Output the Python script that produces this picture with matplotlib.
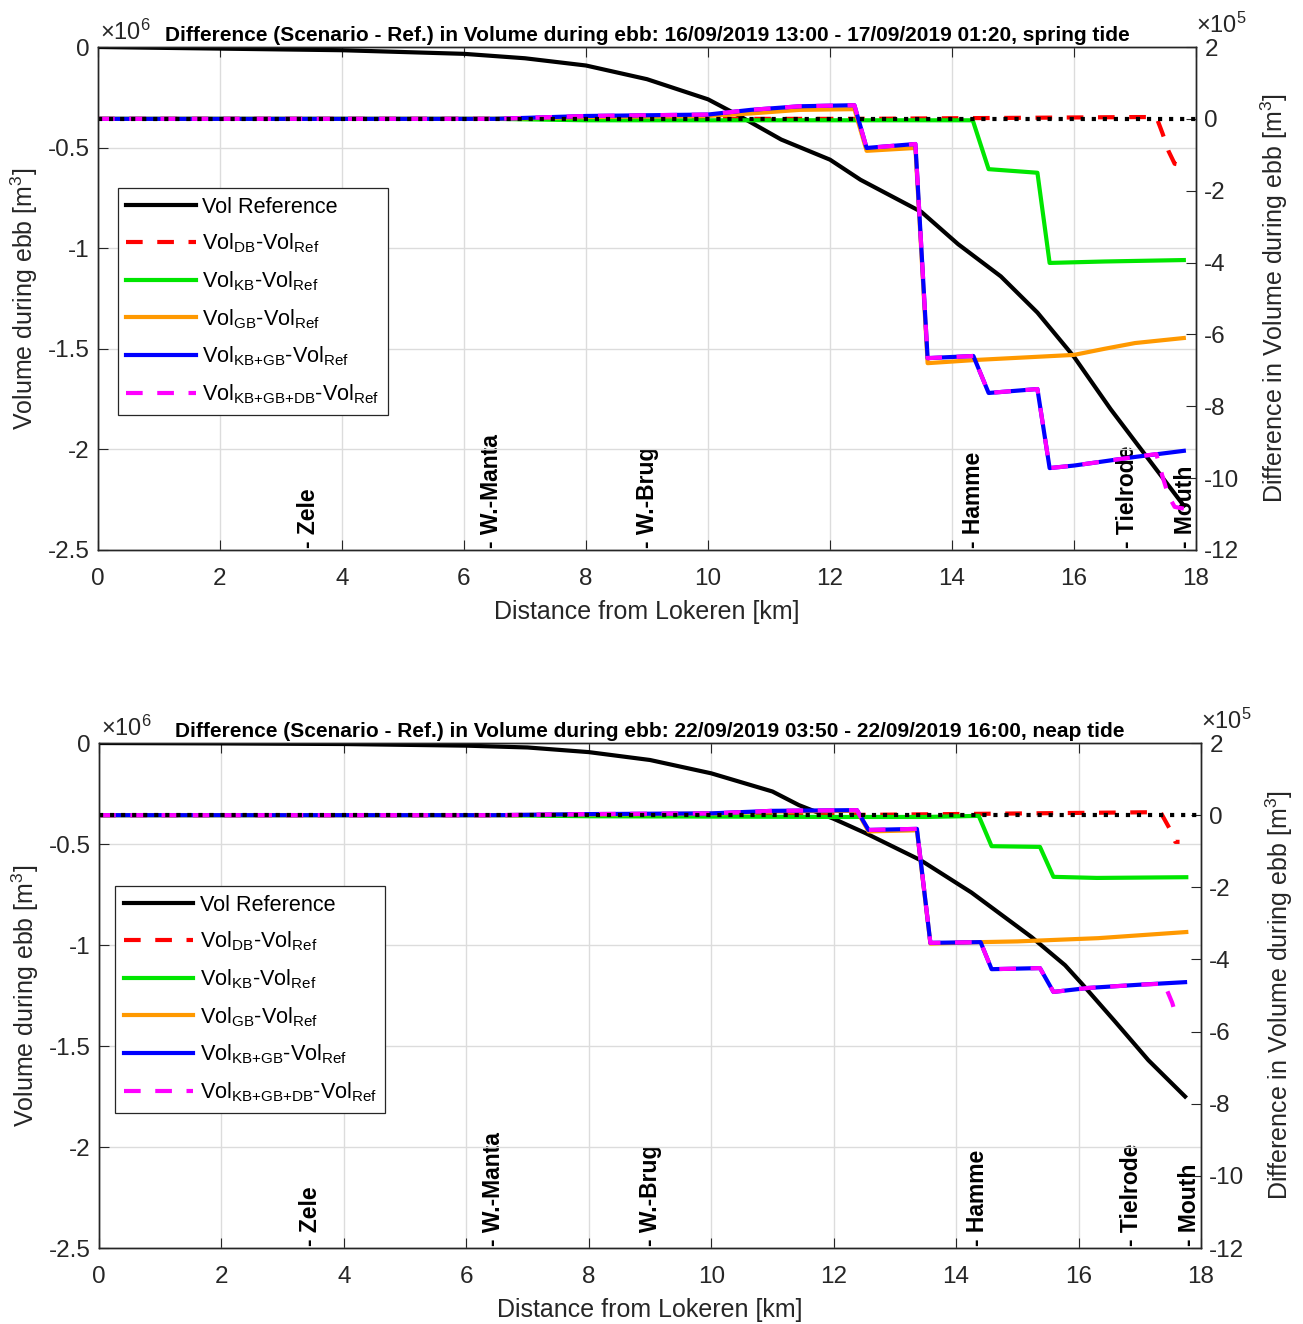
import numpy as np
import matplotlib
matplotlib.use('Agg')
import matplotlib.pyplot as plt
import matplotlib.ticker as tick
import matplotlib.transforms as mtrans

plt.rcParams['font.family'] = ['Liberation Sans', 'DejaVu Sans']
plt.rcParams['mathtext.fontset'] = 'custom'
plt.rcParams['mathtext.rm'] = 'Liberation Sans'
plt.rcParams['mathtext.it'] = 'Liberation Sans:italic'
plt.rcParams['mathtext.bf'] = 'Liberation Sans:bold'
plt.rcParams['axes.unicode_minus'] = False

# stanice duz rijeke (km od Lokerena)
st_km = [3.45, 6.45, 9.0, 14.35, 16.87, 17.82]
st_ime = ['Zele', 'W.-Manta', 'W.-Brug', 'Hamme', 'Tielrode', 'Mouth']

# ---- spring tide (16/09 - 17/09) ----
# referentni volumen, 1e6 m3
xs_ref = [0, 2, 4, 6, 7, 8, 9, 10, 10.5, 11.2, 12, 12.5, 13, 13.5, 14.1, 14.8, 15.4, 16.0, 16.6, 17.2, 17.8]
vs_ref = [0, -0.008, -0.016, -0.034, -0.056, -0.092, -0.16, -0.26, -0.34, -0.46, -0.56, -0.66,
          -0.74, -0.82, -0.98, -1.14, -1.32, -1.54, -1.80, -2.04, -2.28]
# razlike scenarija, 1e5 m3
xs_db = [0, 10, 12.5, 17.0, 17.35, 17.45, 17.55, 17.65, 17.8]
vs_db = [0, 0, 0, 0.05, 0.05, -0.4, -0.9, -1.25, -1.3]
xs_kb = [0, 6.5, 8, 14.34, 14.6, 15.4, 15.6, 16.5, 17.8]
vs_kb = [0, 0, -0.04, -0.04, -1.4, -1.5, -4.01, -3.97, -3.93]
xs_gb = [0, 6.5, 8, 10, 10.7, 11.5, 12.4, 12.6, 13.4, 13.6, 14.4, 16.0, 16.5, 17.0, 17.8]
vs_gb = [0, 0, 0.05, 0.08, 0.15, 0.25, 0.27, -0.89, -0.81, -6.8, -6.71, -6.57, -6.40, -6.24, -6.10]
xs_kbgb = [0, 6.5, 8, 10, 10.7, 11.5, 12.4, 12.6, 13.4, 13.6, 14.35, 14.6, 15.4, 15.6, 16.0, 17.0, 17.8]
vs_kbgb = [0, 0, 0.08, 0.12, 0.25, 0.35, 0.38, -0.81, -0.70, -6.66, -6.6, -7.63, -7.52, -9.72, -9.65, -9.41, -9.24]
xs_all = [0, 6.5, 8, 10, 10.7, 11.5, 12.4, 12.6, 13.4, 13.6, 14.35, 14.6, 15.4, 15.6, 16.0, 17.0, 17.35,
          17.45, 17.55, 17.65, 17.8]
vs_all = [0, 0, 0.08, 0.12, 0.25, 0.35, 0.38, -0.81, -0.70, -6.66, -6.6, -7.63, -7.52, -9.72, -9.65, -9.41,
          -9.33, -9.95, -10.5, -10.8, -10.85]

# ---- neap tide (22/09) ----
xn_ref = [0, 2, 4, 6, 7, 8, 9, 10, 11, 11.43, 12.0, 12.52, 13.42, 14.25, 15.23, 15.78, 16.05, 16.6, 17.14, 17.74]
vn_ref = [0, -0.002, -0.005, -0.013, -0.022, -0.045, -0.084, -0.15, -0.24, -0.307, -0.375, -0.446,
          -0.58, -0.74, -0.96, -1.1, -1.19, -1.38, -1.57, -1.75]
xn_db = [0, 12, 17.1, 17.34, 17.5, 17.58, 17.65]
vn_db = [0, 0, 0.08, 0.08, -0.41, -0.74, -0.74]
xn_kb = [0, 6.5, 8, 12.2, 13.5, 14.37, 14.58, 15.37, 15.59, 16.3, 17.76]
vn_kb = [0, 0, -0.03, -0.05, -0.05, -0.02, -0.86, -0.88, -1.71, -1.74, -1.72]
xn_gb = [0, 6.5, 8, 10, 11, 12.38, 12.57, 13.36, 13.58, 14.4, 15.0, 16.32, 17.76]
vn_gb = [0, 0, 0.02, 0.04, 0.1, 0.12, -0.45, -0.42, -3.56, -3.52, -3.50, -3.41, -3.24]
xn_kbgb = [0, 6.5, 8, 10, 11.0, 12.38, 12.57, 13.36, 13.58, 14.4, 14.58, 15.37, 15.59, 16.16, 17.0, 17.74]
vn_kbgb = [0, 0, 0.03, 0.05, 0.12, 0.14, -0.41, -0.38, -3.54, -3.52, -4.27, -4.24, -4.9, -4.79, -4.7, -4.63]
xn_all = [0, 6.5, 8, 10, 11.0, 12.38, 12.57, 13.36, 13.58, 14.4, 14.58, 15.37, 15.59, 16.16, 17.0, 17.4,
          17.53, 17.58, 17.7]
vn_all = [0, 0, 0.03, 0.05, 0.12, 0.14, -0.41, -0.38, -3.54, -3.52, -4.27, -4.24, -4.9, -4.79, -4.7, -4.67,
          -5.2, -5.49, -5.52]

naslov_s = 'Difference (Scenario - Ref.) in Volume during ebb: 16/09/2019 13:00 - 17/09/2019 01:20, spring tide'
naslov_n = 'Difference (Scenario - Ref.) in Volume during ebb: 22/09/2019 03:50 - 22/09/2019 16:00, neap tide'

oznake = ['Vol Reference',
          r'Vol$_{\mathrm{DB}}$-Vol$_{\mathrm{Ref}}$',
          r'Vol$_{\mathrm{KB}}$-Vol$_{\mathrm{Ref}}$',
          r'Vol$_{\mathrm{GB}}$-Vol$_{\mathrm{Ref}}$',
          r'Vol$_{\mathrm{KB{+}GB}}$-Vol$_{\mathrm{Ref}}$',
          r'Vol$_{\mathrm{KB{+}GB{+}DB}}$-Vol$_{\mathrm{Ref}}$']

siva = '#262626'
fmt = tick.FuncFormatter(lambda v, p: f'{v:g}')


def crtaj(pos, naslov, xr, vr, serije, leg_xy):
    ax = fig.add_axes(pos)
    ax2 = ax.twinx()
    lref, = ax.plot(xr, vr, color='k', lw=3, zorder=3)
    ax.set_xlim(0, 18)
    ax.set_ylim(-2.5, 0)
    ax2.set_ylim(-12, 2)
    ax.xaxis.set_major_locator(tick.MultipleLocator(2))
    ax.yaxis.set_major_locator(tick.MultipleLocator(0.5))
    ax2.yaxis.set_major_locator(tick.MultipleLocator(2))
    ax.yaxis.set_major_formatter(fmt)
    ax2.yaxis.set_major_formatter(fmt)
    ax.xaxis.set_major_formatter(fmt)
    ax.grid(True, color='#dcdcdc', lw=1)
    ax.tick_params(direction='in', length=7, top=True, labelsize=17.5, colors=siva, pad=13)
    ax.tick_params(axis='y', pad=6)
    ax2.tick_params(direction='in', length=7, labelsize=17.5, colors=siva, pad=6)
    for a in (ax, ax2):
        for s in a.spines.values():
            s.set_color(siva)
            s.set_linewidth(1.0)

    hl = [lref]
    stil = [('#ff0000', (0, (4, 3.5))), ('#00e600', '-'), ('#ff9900', '-'),
            ('#0000ff', '-'), ('#ff00ff', (0, (4, 3.5)))]
    for (xx, vv), (c, ls) in zip(serije, stil):
        l, = ax2.plot(xx, vv, color=c, lw=3, linestyle=ls)
        hl.append(l)
    ax2.axhline(0, color='k', lw=3, linestyle=':')

    trans = mtrans.blended_transform_factory(ax.transData, ax.transAxes)
    for km, ime in zip(st_km, st_ime):
        ax.text(km, 0.004, '- ' + ime, transform=trans, rotation=90, ha='center', va='bottom',
                fontsize=16.5, fontweight='bold', zorder=1)

    ax.set_title(naslov, fontsize=15, fontweight='bold', pad=4)
    ax.set_xlabel('Distance from Lokeren [km]', fontsize=18, color=siva)
    ax.set_ylabel('Volume during ebb [m$^3$]', fontsize=18, color=siva)
    ax2.set_ylabel('Difference in Volume during ebb [m$^3$]', fontsize=18, color=siva)
    ax.xaxis.set_label_coords(0.5, -0.1)
    ax.yaxis.set_label_coords(-0.053, 0.5)
    ax2.yaxis.set_label_coords(1.057, 0.5)
    ax.text(0.002, 1.014, '×10$^{6}$', transform=ax.transAxes, fontsize=17, color=siva, va='baseline')
    ax2.text(1.0, 1.028, '×10$^{5}$', transform=ax.transAxes, fontsize=17, color=siva, va='baseline')

    leg = ax2.legend(hl, oznake, loc='upper left', bbox_to_anchor=leg_xy, fontsize=15.6,
                     fancybox=False, framealpha=1, edgecolor=siva, handlelength=3.2,
                     handletextpad=0.3, labelspacing=0.65, borderpad=0.4, borderaxespad=0)
    leg.get_frame().set_linewidth(0.9)
    return ax, ax2


fig = plt.figure(figsize=(13.03, 13.24), dpi=100)

crtaj([0.0752, 0.5846, 0.8427, 0.3799], naslov_s, xs_ref, vs_ref,
      [(xs_db, vs_db), (xs_kb, vs_kb), (xs_gb, vs_gb), (xs_kbgb, vs_kbgb), (xs_all, vs_all)],
      (0.018, 0.72))
crtaj([0.0760, 0.0574, 0.8457, 0.3814], naslov_n, xn_ref, vn_ref,
      [(xn_db, vn_db), (xn_kb, vn_kb), (xn_gb, vn_gb), (xn_kbgb, vn_kbgb), (xn_all, vn_all)],
      (0.0145, 0.717))

fig.savefig('out.png', dpi=100)
